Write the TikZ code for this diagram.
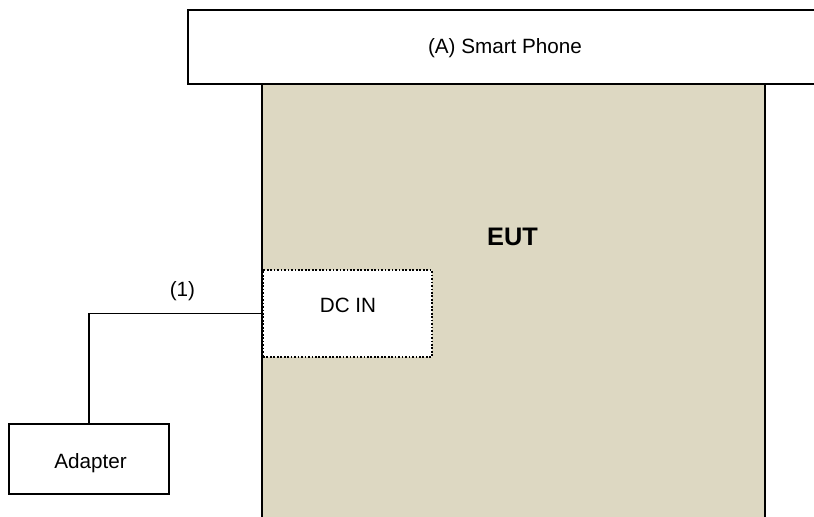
\documentclass[tikz,border=0pt]{standalone}
\usepackage{fontspec}
\setmainfont{Liberation Sans}
\usepackage{tikz}
\usetikzlibrary{positioning,calc}
\definecolor{eutfill}{HTML}{DDD8C2}

\begin{document}
\begin{tikzpicture}[x=0.75pt,y=-0.75pt,
    font=\fontsize{15.5}{18}\selectfont,
    unitbox/.style={draw,line width=1.6pt,fill=white,inner sep=0pt},
    dotbox/.style={draw,line width=1.3pt,dash pattern=on 1.3pt off 1.3pt,fill=white,inner sep=0pt},
    cable/.style={draw,line width=0.8pt}]
  \clip (0,0) rectangle (814,517);

  \node[unitbox,fill=eutfill,minimum width=377.25pt,minimum height=334.5pt] (eut)
    at (513.5,307) {};
  \node[font=\fontsize{19}{22}\selectfont\bfseries] (euttext) at (512.5,237) {EUT};
  \node[unitbox,minimum width=481.5pt,minimum height=55.5pt] (phone)
    at (509,47) {};
  \node (phonetext) at (505,48) {(A) Smart Phone};

  \node[dotbox,minimum width=126.75pt,minimum height=65.25pt] (dcin)
    at (347.5,313.5) {};
  \node (dcintext) at (348,305.5) {DC IN};
  \node[unitbox,minimum width=120pt,minimum height=52.5pt] (adapter)
    at (89,459) {};
  \node (adaptertext) at (90.5,463) {Adapter};

  \draw[cable] (dcin.west) -| (adapter.north)
    node[pos=0.23,above=6pt] (cablelabel) {(1)};
\end{tikzpicture}
\end{document}
